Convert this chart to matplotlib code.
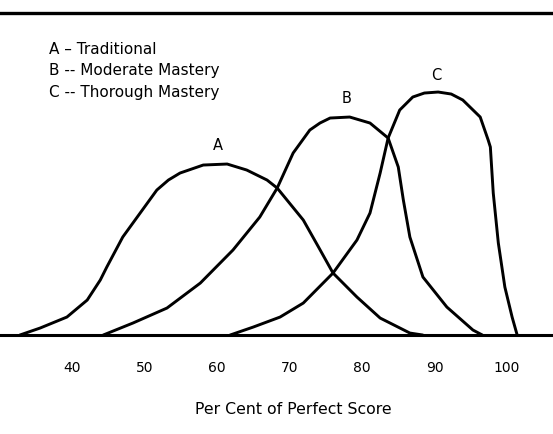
import numpy as np
import matplotlib
matplotlib.use("Agg")
import matplotlib.pyplot as plt

plt.rcParams['font.family'] = ['DejaVu Sans']

# Per cent of perfect score (x) vs relative frequency (arbitrary height)
score_a = [32.8, 35.6, 39.3, 42.1, 43.9, 44.8, 47.0, 49.4, 51.7, 53.3, 54.9, 58.1,
           61.4, 64.1, 66.9, 68.3, 71.9, 74.0, 76.0, 79.3, 82.5, 86.6, 88.4]
freq_a = [0, 7, 18, 35, 55, 68, 98, 122, 145, 155, 162, 170,
          171, 165, 155, 147, 115, 88, 62, 38, 17, 2, 0]

score_b = [44.3, 48.4, 53.1, 57.7, 62.2, 65.9, 68.3, 70.5, 72.8, 74.2, 75.6, 78.3,
           81.1, 83.6, 85.0, 85.7, 86.6, 88.4, 91.7, 95.3, 96.6]
freq_b = [0, 12, 27, 52, 85, 118, 147, 182, 205, 212, 217, 218,
          212, 197, 168, 135, 98, 58, 28, 5, 0]

score_c = [61.8, 65.0, 68.7, 71.9, 76.0, 79.3, 81.1, 82.5, 83.6, 85.2, 87.0, 88.6,
           90.5, 92.3, 93.9, 96.3, 97.4, 97.7, 98.1, 98.8, 99.7, 100.7, 101.4]
freq_c = [0, 8, 18, 32, 62, 95, 122, 162, 197, 225, 238, 242,
          243, 241, 235, 218, 195, 188, 142, 92, 48, 18, 0]

curve_labels = ['A', 'B', 'C']
label_pos = [(60.1, 190), (77.9, 237), (90.3, 260)]
legend_lines = ['A \u2013 Traditional', 'B -- Moderate Mastery', 'C -- Thorough Mastery']
ticks = [40, 50, 60, 70, 80, 90, 100]

fig = plt.figure(figsize=(5.53, 4.34), dpi=100)
ax = fig.add_axes([0, 0.228, 1, 0.742])
ax.set_xlim(30.07, 106.34)
ax.set_ylim(0, 322)

for xs, ys in [(score_a, freq_a), (score_b, freq_b), (score_c, freq_c)]:
    ax.plot(xs, ys, color='black', lw=2.1, solid_joinstyle='round',
            solid_capstyle='round', clip_on=False)

for lab, (x, y) in zip(curve_labels, label_pos):
    ax.text(x, y, lab, ha='center', va='center', fontsize=10.5)

# legend block, upper left
for i, line in enumerate(legend_lines):
    fig.text(49 / 553, 1 - (49 + i * 21.5) / 434, line,
             ha='left', va='center', fontsize=11)

for s in ['left', 'right']:
    ax.spines[s].set_visible(False)
ax.spines['bottom'].set_linewidth(2.2)
ax.spines['top'].set_linewidth(2.4)
ax.set_yticks([])
ax.set_xticks(ticks)
ax.set_xticklabels([str(t) for t in ticks], fontsize=10)
ax.tick_params(axis='x', length=0, pad=19)

fig.text(293 / 553, 1 - 410 / 434, 'Per Cent of Perfect Score',
         ha='center', va='center', fontsize=11.3)

fig.savefig('out.png', dpi=100)
